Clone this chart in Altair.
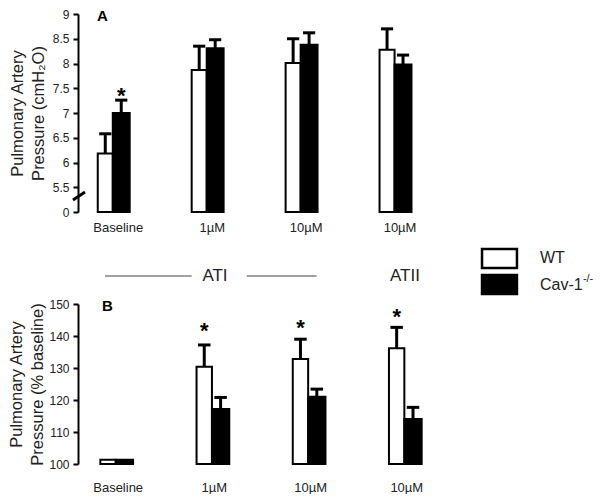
import altair as alt
import pandas as pd

FONT = "Liberation Sans"
INK = "#222222"

# ---------------- data ----------------
groups = ["Baseline", "1µM", "10µM", "10µM"]

# Panel A: Pulmonary artery pressure (cmH2O); axis is broken, "0" drawn at 5
a_wt = [6.18, 7.87, 8.01, 8.28]
a_wt_err = [6.58, 8.35, 8.50, 8.70]
a_cav = [7.00, 8.31, 8.38, 7.98]
a_cav_err = [7.26, 8.48, 8.62, 8.17]
a_star_group = [0]
a_star_series = ["Cav"]
a_star_y = [7.44]

# Panel B: Pulmonary artery pressure (% baseline)
b_wt = [101.3, 130.4, 132.8, 136.2]
b_wt_err = [None, 137.2, 139.0, 142.7]
b_cav = [101.3, 117.2, 121.0, 114.1]
b_cav_err = [None, 120.8, 123.4, 117.7]
b_star_group = [1, 2, 3]
b_star_series = ["WT", "WT", "WT"]
b_star_y = [143.2, 144.1, 147.4]

a_ticks = [5, 5.5, 6, 6.5, 7, 7.5, 8, 8.5, 9]
b_ticks = [100, 110, 120, 130, 140, 150]

# ---------------- layout constants (group units) ----------------
WT_L, CAV_R = -0.16, 0.18
STEM = {"WT": -0.08, "Cav": 0.09}
CAP = 0.065

label_list = "[" + ",".join("'%s'" % g for g in groups) + "]"


def bar_rows(wt, cav, base):
    rows = []
    for i, (w, c) in enumerate(zip(wt, cav)):
        rows.append(dict(x=i + WT_L, x2=i, y=w, y2=base, s="WT"))
        rows.append(dict(x=i, x2=i + CAV_R, y=c, y2=base, s="Cav"))
    return pd.DataFrame(rows)


def err_rows(wt, wt_err, cav, cav_err):
    rows = []
    for i in range(len(wt)):
        for s, v, e in (("WT", wt[i], wt_err[i]), ("Cav", cav[i], cav_err[i])):
            if e is None:
                continue
            cx = i + STEM[s]
            rows.append(dict(x=cx, xa=cx - CAP, xb=cx + CAP, y=v, y2=e))
    return pd.DataFrame(rows)


def star_rows(g, s, yv):
    return pd.DataFrame([dict(x=gi + STEM[si], y=v) for gi, si, v in zip(g, s, yv)])


fill_scale = alt.Scale(domain=["WT", "Cav"], range=["white", "black"])


def panel(wt, wt_err, cav, cav_err, base, xdom, ydom, yticks, ylabel_expr,
          ytitle, title_pad, xlabel_shift, xlabel_pad, letter, extra=None):
    xs = alt.Scale(domain=xdom, nice=False, zero=False)
    ys = alt.Scale(domain=ydom, nice=False, zero=False)
    xaxis = alt.Axis(values=[i + xlabel_shift for i in range(len(groups))],
                     labelExpr=label_list + "[round(datum.value)]",
                     domain=False, ticks=False, tickSize=0, grid=False, title=None,
                     labelPadding=xlabel_pad, labelFont=FONT, labelFontSize=13,
                     labelColor=INK, labelOverlap=False)
    yaxis = alt.Axis(values=yticks, labelExpr=ylabel_expr, title=ytitle,
                     titleFont=FONT, titleFontSize=16.5, titleFontWeight="normal",
                     titleColor=INK, titlePadding=title_pad, titleLineHeight=21,
                     labelFont=FONT, labelFontSize=12, labelColor=INK, labelPadding=4,
                     tickSize=5, tickWidth=2, tickColor="black", domainColor="black",
                     domainWidth=2, grid=False, labelOverlap=False)
    X = alt.X("x:Q", scale=xs, axis=xaxis)
    Y = alt.Y("y:Q", scale=ys, axis=yaxis)

    bars = alt.Chart(bar_rows(wt, cav, base)).mark_bar(
        stroke="black", strokeWidth=2).encode(
        x=X, x2="x2:Q", y=Y, y2="y2:Q",
        fill=alt.Fill("s:N", scale=fill_scale, legend=None))
    err = err_rows(wt, wt_err, cav, cav_err)
    stems = alt.Chart(err).mark_rule(color="black", strokeWidth=3).encode(
        x=X, y=Y, y2="y2:Q")
    caps = alt.Chart(err).mark_rule(color="black", strokeWidth=3).encode(
        x=alt.X("xa:Q", scale=xs, axis=xaxis), x2="xb:Q",
        y=alt.Y("y2:Q", scale=ys, axis=yaxis))
    layers = [bars, stems, caps]
    layers.append(alt.Chart(pd.DataFrame([letter])).mark_text(
        font=FONT, fontSize=15, fontWeight="bold", color="black",
        align="center", baseline="middle").encode(x=X, y=Y, text="t:N"))
    if extra:
        layers.extend(extra(X, Y))
    return layers


def stars(df):
    def f(X, Y):
        return [alt.Chart(df).mark_text(text="*", font=FONT, fontSize=22,
                                        fontWeight="bold", color="black",
                                        align="center", baseline="alphabetic",
                                        dy=12).encode(x=X, y=Y)]
    return f


# annotation (between panels) drawn in panel A's units
ann_lines = pd.DataFrame([dict(x=-0.083, x2=0.840, y=3.707),
                          dict(x=1.426, x2=2.171, y=3.707)])
ann_text = pd.DataFrame([dict(x=1.088, y=3.707, t="ATI"),
                         dict(x=3.111, y=3.707, t="ATII")])
leg_box = pd.DataFrame([dict(x=3.931, x2=4.303, y=4.253, y2=3.869, s="WT"),
                        dict(x=3.931, x2=4.303, y=3.727, y2=3.343, s="Cav")])
leg_text = pd.DataFrame([dict(x=4.548, y=4.071, t="WT"),
                         dict(x=4.548, y=3.525, t="Cav-1")])
leg_sup = pd.DataFrame([dict(x=5.005, y=3.640, t="-/-")])
axis_break = pd.DataFrame([dict(x=-0.4235, x2=-0.2958, y=5.242, y2=5.404)])


def top_extra(X, Y):
    out = stars(star_rows(a_star_group, a_star_series, a_star_y))(X, Y)
    out.append(alt.Chart(ann_lines).mark_rule(color="#444444", strokeWidth=1).encode(
        x=X, x2="x2:Q", y=Y))
    out.append(alt.Chart(ann_text).mark_text(font=FONT, fontSize=17, color=INK,
                                             align="center", baseline="middle").encode(
        x=X, y=Y, text="t:N"))
    out.append(alt.Chart(leg_box).mark_rect(stroke="black", strokeWidth=2.5).encode(
        x=X, x2="x2:Q", y=Y, y2="y2:Q",
        fill=alt.Fill("s:N", scale=fill_scale, legend=None)))
    out.append(alt.Chart(leg_text).mark_text(font=FONT, fontSize=16, color=INK,
                                             align="left", baseline="middle").encode(
        x=X, y=Y, text="t:N"))
    out.append(alt.Chart(leg_sup).mark_text(font=FONT, fontSize=11, color=INK,
                                            align="left", baseline="middle").encode(
        x=X, y=Y, text="t:N"))
    out.append(alt.Chart(axis_break).mark_rule(color="black", strokeWidth=3).encode(
        x=X, x2="x2:Q", y=Y, y2="y2:Q"))
    return out


top_layers = panel(
    a_wt, a_wt_err, a_cav, a_cav_err, 5,
    xdom=[-0.3703, 3.3772], ydom=[5, 9], yticks=a_ticks,
    ylabel_expr="datum.value == 5 ? '0' : format(datum.value, '~g')",
    ytitle=["Pulmonary Artery", "Pressure (cmH₂O)"], title_pad=6,
    xlabel_shift=0.053, xlabel_pad=9,
    letter=dict(x=-0.109, y=8.96, t="A"), extra=top_extra)
top = alt.layer(*top_layers).properties(width=352, height=198)

bottom_layers = panel(
    b_wt, b_wt_err, b_cav, b_cav_err, 100,
    xdom=[-0.3924, 3.2666], ydom=[100, 150], yticks=b_ticks,
    ylabel_expr="format(datum.value, 'd')",
    ytitle=["Pulmonary Artery", "Pressure (% baseline)"], title_pad=3,
    xlabel_shift=0.02, xlabel_pad=17,
    letter=dict(x=-0.086, y=149.5, t="B"),
    extra=stars(star_rows(b_star_group, b_star_series, b_star_y)))
bottom = alt.layer(*bottom_layers).properties(width=352, height=160)

chart = alt.vconcat(top, bottom, spacing=2).resolve_scale(
    x="independent", y="independent", fill="independent"
).properties(
    padding={"left": 0, "top": 0, "right": 0, "bottom": 0},
    background="white"
).configure_view(stroke=None)

chart.save("out.html", embed_options={"renderer": "svg", "actions": False})
